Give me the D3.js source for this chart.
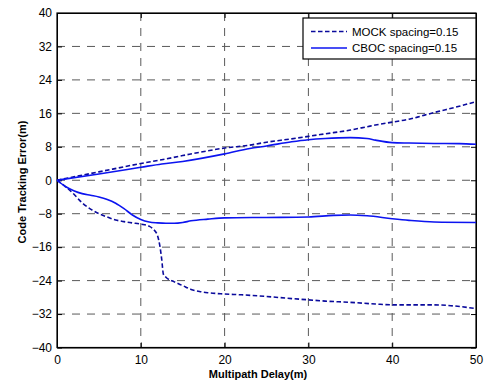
<!DOCTYPE html>
<html>
<head>
<meta charset="utf-8">
<script src="https://cdn.jsdelivr.net/npm/d3@7"></script>
<style>
  body { margin: 0; background: #fff; }
  text { font-family: Arial, "Liberation Sans", sans-serif; }
</style>
</head>
<body>
<svg id="chart"></svg>
<script>
// data
const delayUp = [0, 5, 10, 12.5, 15, 20, 23, 25, 28, 30, 32, 35, 37, 38, 40, 42, 45, 48, 50];
const mockUpper = [0, 2.0, 4.0, 4.9, 5.9, 7.7, 8.4, 9.1, 9.9, 10.5, 11.1, 12.0, 12.8, 13.2, 13.9, 14.6, 16.2, 17.7, 18.8];
const cbocUpper = [0, 1.5, 3.1, 3.9, 4.5, 6.3, 7.6, 8.2, 9.2, 9.7, 10.0, 10.2, 10.0, 9.6, 9.0, 8.9, 8.8, 8.75, 8.6];

const delayCboc = [0, 1, 2, 3, 4, 5, 6, 7, 8, 9, 10, 11, 12, 13, 14, 15, 16, 18, 20, 25, 30, 33, 35, 37, 40, 42, 45, 50];
const cbocLower = [0, -1.5, -2.5, -3.2, -3.6, -4.0, -4.6, -5.5, -6.8, -8.3, -9.4, -10.0, -10.2, -10.3, -10.3, -10.1, -9.7, -9.3, -9.0, -8.9, -8.8, -8.4, -8.3, -8.5, -9.2, -9.6, -10.0, -10.1];

const delayMock = [0, 1, 2, 3, 4, 5, 6, 7, 8, 9, 10, 11, 11.5, 12, 12.3, 12.5, 12.7, 13, 14, 15, 16, 17, 18, 20, 22, 25, 28, 30, 32, 35, 38, 40, 45, 47, 50];
const mockLower = [0, -1.5, -3.3, -5.4, -6.9, -8.0, -8.8, -9.5, -9.9, -10.2, -10.5, -11.0, -11.7, -13.3, -16, -19, -22.5, -23.2, -24.3, -25.2, -26.1, -26.6, -26.9, -27.2, -27.4, -27.8, -28.3, -28.6, -28.9, -29.2, -29.6, -29.8, -29.8, -30.0, -30.7];

const xTicks = [0, 10, 20, 30, 40, 50];
const yTicks = [-40, -32, -24, -16, -8, 0, 8, 16, 24, 32, 40];
const legendNames = ["MOCK spacing=0.15", "CBOC spacing=0.15"];

const width = 492, height = 385;
const m = {top: 13, right: 16, bottom: 37.5, left: 57};
const w = width - m.left - m.right;
const h = height - m.top - m.bottom;

const svg = d3.select("#chart").attr("width", width).attr("height", height);
const g = svg.append("g").attr("transform", `translate(${m.left},${m.top})`);

const x = d3.scaleLinear().domain([0, 50]).range([0, w]);
const y = d3.scaleLinear().domain([-40, 40]).range([h, 0]);

// grid
g.append("g").selectAll("line").data(xTicks.slice(1, -1)).enter().append("line")
  .attr("x1", d => x(d)).attr("x2", d => x(d)).attr("y1", 0).attr("y2", h)
  .attr("stroke", "#5a5a5a").attr("stroke-dasharray", "8,7");
g.append("g").selectAll("line").data(yTicks.slice(1, -1)).enter().append("line")
  .attr("y1", d => y(d)).attr("y2", d => y(d)).attr("x1", 0).attr("x2", w)
  .attr("stroke", "#5a5a5a").attr("stroke-dasharray", "8,7");

// axes
const ax = g.append("g").attr("transform", `translate(0,${h})`)
  .call(d3.axisBottom(x).tickValues(xTicks).tickSizeInner(-5).tickSizeOuter(0).tickPadding(8));
const ay = g.append("g")
  .call(d3.axisLeft(y).tickValues(yTicks).tickSizeInner(-5).tickSizeOuter(0).tickPadding(5));
g.append("g").call(d3.axisTop(x).tickValues(xTicks).tickSizeInner(-5).tickSizeOuter(0).tickFormat(""));
g.append("g").attr("transform", `translate(${w},0)`)
  .call(d3.axisRight(y).tickValues(yTicks).tickSizeInner(-5).tickSizeOuter(0).tickFormat(""));
g.selectAll(".domain").attr("stroke", "#000");
g.selectAll(".tick line").attr("stroke", "#000");
g.selectAll(".tick text").attr("fill", "#000").style("font-size", "12px");

g.append("rect").attr("width", w).attr("height", h)
  .attr("fill", "none").attr("stroke", "#000").attr("stroke-width", 1.2);

// lines
const line = d3.line().x(d => x(d[0])).y(d => y(d[1])).curve(d3.curveMonotoneX);
const mockStyle = {color: "#0a0a9c", dash: "4.5,2.5"};
const cbocStyle = {color: "#0c14f0", dash: null};

function draw(xs, ys, st) {
  g.append("path").datum(d3.zip(xs, ys))
    .attr("d", line).attr("fill", "none")
    .attr("stroke", st.color).attr("stroke-width", 1.6)
    .attr("stroke-dasharray", st.dash);
}
draw(delayUp, mockUpper, mockStyle);
draw(delayUp, cbocUpper, cbocStyle);
draw(delayMock, mockLower, mockStyle);
draw(delayCboc, cbocLower, cbocStyle);

// legend
const lg = svg.append("g").attr("transform", "translate(303,18)");
lg.append("rect").attr("width", 173).attr("height", 41)
  .attr("fill", "#fff").attr("stroke", "#000").attr("stroke-width", 1.2);
[mockStyle, cbocStyle].forEach((st, i) => {
  const yy = 13.5 + i * 16.5;
  lg.append("line").attr("x1", 8).attr("x2", 44).attr("y1", yy).attr("y2", yy)
    .attr("stroke", st.color).attr("stroke-width", 1.6).attr("stroke-dasharray", st.dash);
  lg.append("text").attr("x", 49).attr("y", yy + 4).text(legendNames[i])
    .style("font-size", "11.5px").attr("fill", "#000");
});

// axis labels
svg.append("text").attr("x", 258).attr("y", 378).attr("text-anchor", "middle")
  .style("font-size", "11px").style("font-weight", "bold").text("Multipath Delay(m)");
svg.append("text").attr("transform", "translate(26,182) rotate(-90)").attr("text-anchor", "middle")
  .style("font-size", "11px").style("font-weight", "bold").text("Code Tracking Error(m)");
</script>
</body>
</html>
